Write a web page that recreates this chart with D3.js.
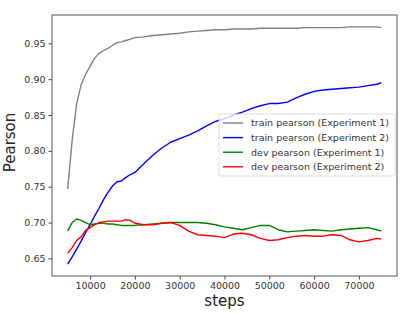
<!DOCTYPE html>
<html>
<head>
<meta charset="utf-8">
<script src="https://cdn.jsdelivr.net/npm/d3@7"></script>
<style>
  body { margin: 0; background: #fff; }
  text { font-family: "DejaVu Sans", sans-serif; }
</style>
</head>
<body>
<div class="chart"></div>
<script>
// data
const steps = [5000, 6000, 7000, 8000, 9000, 10000, 11000, 12000, 13000, 14000, 15000,
  16000, 17000, 18000, 19000, 20000, 22000, 24000, 26000, 28000, 30000, 32000, 34000,
  36000, 38000, 40000, 42000, 44000, 46000, 48000, 50000, 52000, 54000, 56000, 58000,
  60000, 62000, 64000, 66000, 68000, 70000, 72000, 74000, 75000];
const trainExp1 = [0.747, 0.815, 0.866, 0.892, 0.907, 0.918, 0.929, 0.936, 0.940, 0.943, 0.947,
  0.951, 0.952, 0.954, 0.956, 0.958, 0.959, 0.961, 0.962, 0.963, 0.964, 0.966, 0.967,
  0.968, 0.969, 0.969, 0.970, 0.970, 0.970, 0.971, 0.971, 0.971, 0.971, 0.971, 0.972,
  0.972, 0.972, 0.972, 0.972, 0.973, 0.973, 0.973, 0.973, 0.972];
const trainExp2 = [0.642, 0.652, 0.663, 0.674, 0.686, 0.697, 0.709, 0.720, 0.732, 0.742, 0.751,
  0.757, 0.758, 0.763, 0.767, 0.770, 0.782, 0.794, 0.804, 0.812, 0.817, 0.822, 0.828,
  0.835, 0.841, 0.845, 0.850, 0.854, 0.859, 0.863, 0.866, 0.866, 0.868, 0.874, 0.879,
  0.883, 0.885, 0.886, 0.887, 0.888, 0.889, 0.891, 0.893, 0.895];
const devExp1 = [0.688, 0.700, 0.705, 0.703, 0.700, 0.697, 0.698, 0.699, 0.699, 0.698, 0.698,
  0.697, 0.696, 0.696, 0.696, 0.696, 0.697, 0.698, 0.699, 0.700, 0.700, 0.700, 0.700,
  0.699, 0.697, 0.694, 0.692, 0.690, 0.693, 0.696, 0.696, 0.690, 0.687, 0.688, 0.689,
  0.690, 0.689, 0.688, 0.690, 0.691, 0.692, 0.693, 0.690, 0.688];
const devExp2 = [0.657, 0.665, 0.675, 0.680, 0.689, 0.693, 0.697, 0.700, 0.701, 0.702, 0.702,
  0.702, 0.702, 0.704, 0.703, 0.699, 0.697, 0.697, 0.699, 0.700, 0.696, 0.688, 0.683,
  0.682, 0.681, 0.679, 0.684, 0.685, 0.683, 0.678, 0.675, 0.676, 0.679, 0.681, 0.682,
  0.681, 0.681, 0.683, 0.682, 0.676, 0.673, 0.675, 0.678, 0.677];
const seriesNames = ["train pearson (Experiment 1)", "train pearson (Experiment 2)",
  "dev pearson (Experiment 1)", "dev pearson (Experiment 2)"];
const seriesColors = ["#808080", "#0000ff", "#008000", "#ff0000"];
const xTicks = [10000, 20000, 30000, 40000, 50000, 60000, 70000];
const yTicks = [0.65, 0.70, 0.75, 0.80, 0.85, 0.90, 0.95];

const allSeries = [trainExp1, trainExp2, devExp1, devExp2];

const W = 405, H = 314;
const margin = {top: 15, right: 8, bottom: 38, left: 52};
const width = W - margin.left - margin.right,
      height = H - margin.top - margin.bottom;

const svg = d3.select(".chart").append("svg")
  .attr("width", W).attr("height", H);
const g = svg.append("g")
  .attr("transform", `translate(${margin.left},${margin.top})`);

// matplotlib style 5% margins
const xExt = d3.extent(steps);
const xPad = (xExt[1] - xExt[0]) * 0.05;
const yMin = d3.min(allSeries, s => d3.min(s)), yMax = d3.max(allSeries, s => d3.max(s));
const yPad = (yMax - yMin) * 0.05;

const xScale = d3.scaleLinear().domain([xExt[0] - xPad, xExt[1] + xPad]).range([0, width]);
const yScale = d3.scaleLinear().domain([yMin - yPad, yMax + yPad]).range([height, 0]);

const xAxis = d3.axisBottom(xScale).tickValues(xTicks).tickFormat(d3.format("d"))
  .tickSize(3.5).tickPadding(3);
const yAxis = d3.axisLeft(yScale).tickValues(yTicks).tickFormat(d3.format(".2f"))
  .tickSize(3.5).tickPadding(3);

const drawX = g.append("g").attr("transform", `translate(0,${height})`).call(xAxis);
const drawY = g.append("g").call(yAxis);
[drawX, drawY].forEach(a => {
  a.select(".domain").remove();
  a.selectAll(".tick line").attr("stroke", "#444");
  a.selectAll(".tick text").attr("fill", "#333").style("font-size", "9.5px");
});

const line = d3.line()
  .x((d, i) => xScale(steps[i]))
  .y(d => yScale(d));

allSeries.forEach((s, i) => {
  g.append("path")
    .datum(s)
    .attr("fill", "none")
    .attr("stroke", seriesColors[i])
    .attr("stroke-width", 1.4)
    .attr("stroke-linejoin", "round")
    .attr("d", line);
});

// frame
g.append("rect")
  .attr("width", width).attr("height", height)
  .attr("fill", "none").attr("stroke", "#555").attr("stroke-width", 1);

// axis labels
svg.append("text")
  .attr("x", margin.left + width / 2).attr("y", 306)
  .attr("text-anchor", "middle").style("font-size", "15px").attr("fill", "#222")
  .text("steps");
svg.append("text")
  .attr("transform", `translate(15,${margin.top + height / 2 - 3}) rotate(-90)`)
  .attr("text-anchor", "middle").style("font-size", "15px").attr("fill", "#222")
  .text("Pearson");

// legend
const legend = svg.append("g").attr("transform", "translate(219,114)");
legend.append("rect")
  .attr("width", 176).attr("height", 62).attr("rx", 2)
  .attr("fill", "#fff").attr("fill-opacity", 0.8)
  .attr("stroke", "#d6d6d6").attr("stroke-width", 0.8);
seriesNames.forEach((name, i) => {
  const y = 9 + i * 14.6;
  legend.append("line")
    .attr("x1", 4).attr("x2", 24).attr("y1", y).attr("y2", y)
    .attr("stroke", seriesColors[i]).attr("stroke-width", 1.4);
  legend.append("text")
    .attr("x", 32).attr("y", y + 3.4)
    .style("font-size", "9.5px").attr("fill", "#333")
    .text(name);
});
</script>
</body>
</html>
